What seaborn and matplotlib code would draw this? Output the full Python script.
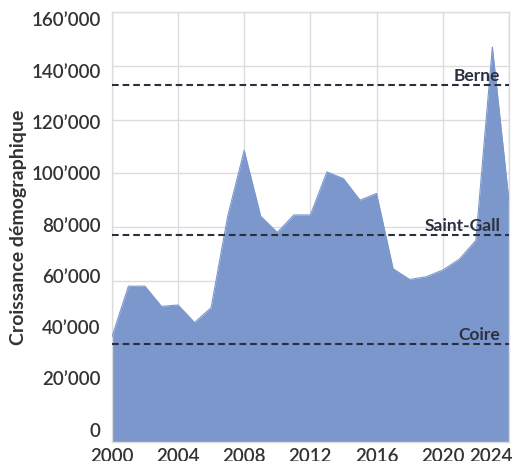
import matplotlib
matplotlib.use("Agg")
import matplotlib.pyplot as plt
import matplotlib.ticker as mticker
import matplotlib.transforms as mtransforms
import seaborn as sns
import pandas as pd

YEARS = list(range(2000, 2025))
GROWTH = [
    39000, 58000, 58000, 50500, 51000, 44500, 50000, 84000, 108500, 84000,
    78000, 84500, 84500, 100500, 98000, 90000, 92500, 64500, 60500, 61500,
    64000, 68000, 75000, 147000, 90000,
]

CITIES = ["Berne", "Saint-Gall", "Coire"]
CITY_LEVELS = [133000, 77000, 36500]

X_TICKS = [2000, 2004, 2008, 2012, 2016, 2020, 2024]
Y_TICKS = [0, 20000, 40000, 60000, 80000, 100000, 120000, 140000, 160000]

FILL_COLOR = "#7b97cc"
TEXT_COLOR = "#333333"
LINE_COLOR = "#2b3040"
DPI = 100


def thousands(value, _pos):
    if value == 0:
        return "0"
    return f"{int(value):,}".replace(",", "\u2019")


def shift_label(label, figure, dx_px=0, dy_px=0):
    offset = mtransforms.ScaledTranslation(dx_px / DPI, dy_px / DPI, figure.dpi_scale_trans)
    label.set_transform(label.get_transform() + offset)


def main():
    sns.set_theme(style="whitegrid")
    plt.rcParams["font.family"] = ["Lato", "DejaVu Sans"]

    data = pd.DataFrame({"Year": YEARS, "Growth": GROWTH})

    figure, axis = plt.subplots(figsize=(5.13, 4.61), dpi=DPI)
    figure.subplots_adjust(left=0.218, right=0.992, bottom=0.041, top=0.974)

    axis.fill_between(data["Year"], data["Growth"], 0, color=FILL_COLOR, linewidth=0, zorder=2)
    sns.lineplot(data=data, x="Year", y="Growth", ax=axis, color=FILL_COLOR, linewidth=0.8, zorder=3)

    for city, level in zip(CITIES, CITY_LEVELS):
        axis.axhline(level, color=LINE_COLOR, linestyle=(0, (3.2, 1.9)), linewidth=1.5, zorder=4)
        axis.text(2023.47, level + 1500, city, ha="right", va="baseline", fontsize=12.5,
                  fontweight="bold", color=LINE_COLOR, zorder=5)

    axis.set_xlim(2000, 2024)
    axis.set_ylim(0, 160000)
    axis.set_xticks(X_TICKS)
    axis.set_yticks(Y_TICKS)
    axis.yaxis.set_major_formatter(mticker.FuncFormatter(thousands))
    axis.set_xlabel("")
    axis.set_ylabel("Croissance démographique", fontsize=14, fontweight="bold",
                    color=TEXT_COLOR, labelpad=3)
    axis.tick_params(axis="both", labelsize=13.5, colors=TEXT_COLOR, length=0, pad=8)
    axis.tick_params(axis="x", pad=4)

    # the original's y labels sit slightly closer together than the grid
    for tick in axis.yaxis.get_major_ticks():
        shift_label(tick.label1, figure, dy_px=(tick.get_loc() - 80000) / 80000 * -10)
    for label in axis.get_xticklabels() + axis.get_yticklabels():
        label.set_fontweight("semibold")
    last = axis.get_xticklabels()[-1]
    last.set_horizontalalignment("right")
    shift_label(last, figure, dx_px=4)

    axis.grid(True, color="#dcdcdc", linewidth=1.0)
    axis.set_axisbelow(True)
    for spine in axis.spines.values():
        spine.set_color("#dcdcdc")
        spine.set_linewidth(1.0)

    figure.savefig("out.png", dpi=DPI)
    plt.close(figure)


if __name__ == "__main__":
    main()
